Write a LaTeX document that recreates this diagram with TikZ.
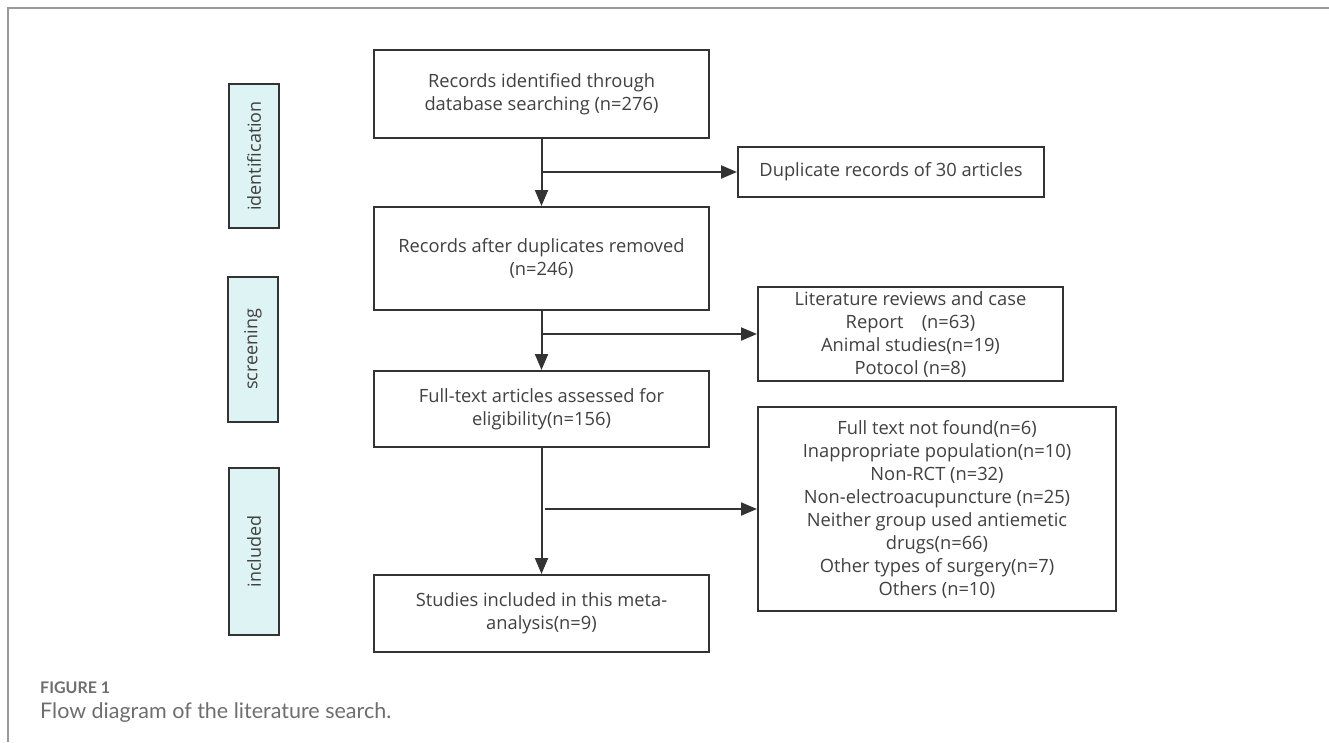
\documentclass[tikz,border=0pt]{standalone}
\usepackage{fontspec}
\setmainfont{Open Sans}
\newfontfamily\capfont{Lato}
\usetikzlibrary{arrows.meta,positioning}
\definecolor{linec}{HTML}{333333}
\definecolor{txtc}{HTML}{404040}
\definecolor{stagefill}{HTML}{DDF3F4}
\definecolor{framec}{HTML}{9A9A9A}
\definecolor{capc}{HTML}{6E6E6E}
\begin{document}
\begin{tikzpicture}[x=1pt,y=-1pt,
  mainbox/.style={draw=linec,line width=2pt,rectangle,inner sep=0pt,align=center,
    text=txtc,font=\fontsize{18.3}{23}\selectfont},
  stagebox/.style={draw=linec,line width=2pt,rectangle,inner sep=0pt,fill=stagefill,
    text=txtc,font=\fontsize{18}{22}\selectfont,minimum width=50pt},
  flow/.style={draw=linec,line width=2pt,-{Triangle[length=16pt,width=13pt]}}]
\useasboundingbox (0,0) rectangle (1329,742);
\fill[white] (0,0) rectangle (1329,742);
% frame
\draw[framec,line width=2pt] (8,742) -- (8,8) -- (1329,8);

% stage labels
\node[stagebox,minimum height=144pt] (sid) at (254,156) {\rotatebox{90}{identification}};
\node[stagebox,minimum height=145pt] (ssc) at (253,349.5) {\rotatebox{90}{screening}};
\node[stagebox,minimum height=167pt] (sin) at (254,551.5) {\rotatebox{90}{included}};

% main boxes
\node[mainbox,minimum width=335pt,minimum height=88pt] (b1) at (541.5,94)
  {Records identified through\\database searching (n=276)};
\node[mainbox,minimum width=335pt,minimum height=103pt] (b2) at (541.5,258.5)
  {Records after duplicates removed\\(n=246)};
\node[mainbox,minimum width=335pt,minimum height=76pt] (b3) at (541.5,409)
  {Full-text articles assessed for\\eligibility(n=156)};
\node[mainbox,minimum width=335pt,minimum height=77pt] (b4) at (541.5,613.5)
  {Studies included in this meta-\\analysis(n=9)};

% side boxes
\node[mainbox,minimum width=306pt,minimum height=50pt] (ra) at (891,172)
  {Duplicate records of 30 articles};
\node[mainbox,minimum width=305pt,minimum height=94pt] (rb) at (910.5,334)
  {Literature reviews and case\\Report\quad(n=63)\\Animal studies(n=19)\\Potocol (n=8)};
\node[mainbox,minimum width=358pt,minimum height=204pt] (rc) at (937,509)
  {Full text not found(n=6)\\Inappropriate population(n=10)\\Non-RCT (n=32)\\Non-electroacupuncture (n=25)\\Neither group used antiemetic\\drugs(n=66)\\Other types of surgery(n=7)\\Others (n=10)};

% branch points
\coordinate (j1) at (b1.south |- ra.west);
\coordinate (j2) at (b2.south |- rb.west);
\coordinate (j3) at (b3.south |- rc.west);

% vertical arrows
\draw[flow] (b1.south) -- (b2.north);
\draw[flow] (b2.south) -- (b3.north);
\draw[flow] (b3.south) -- (b4.north);
% side arrows
\draw[flow] (j1) -- (ra.west);
\draw[flow] (j2) -- (rb.west);
\draw[flow] ([xshift=3pt]j3) -- (rc.west);

% caption
\node[anchor=base west,inner sep=0pt,text=capc,font=\capfont\bfseries\fontsize{16}{18}\selectfont] (cap1) at (40,693) {FIGURE 1};
\node[anchor=base west,inner sep=0pt,text=capc,font=\capfont\fontsize{21.5}{23}\selectfont] (cap2) at (40,718) {Flow diagram of the literature search.};
\end{tikzpicture}
\end{document}
